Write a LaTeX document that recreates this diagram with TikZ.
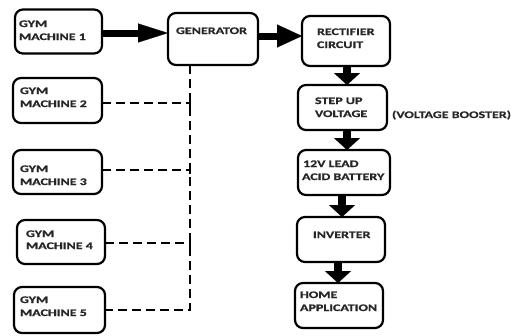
\documentclass[tikz,border=0pt]{standalone}
\usepackage{fontspec}
\newfontfamily\lbl{Carlito}[FakeStretch=1.4, FakeBold=0.8]
\usetikzlibrary{arrows.meta}

\tikzset{
  box/.style={draw=black, line width=2.2bp, rounded corners=8bp, fill=white,
              inner sep=0pt, outer sep=0pt},
  txt/.style={anchor=base west, inner sep=0pt, outer sep=0pt,
              font=\lbl\bfseries\fontsize{10bp}{13bp}\selectfont, text=black!85},
  bigarrow/.style={line width=7bp,
              -{Triangle[width=23bp,length=25bp,line width=0.1bp]}},
  longarrow/.style={line width=7bp,
              -{Triangle[width=19bp,length=30bp,line width=0.1bp]}},
  downarrow/.style={line width=8bp,
              -{Triangle[width=26bp,length=12bp,line width=0.1bp]}},
  link/.style={line width=2.4bp, dash pattern=on 9bp off 5bp},
}

\begin{document}
\begin{tikzpicture}[x=1bp, y=-1bp]
  \useasboundingbox (0,0) rectangle (521,335);

  % gym machines
  \node[box, minimum width=87bp, minimum height=44bp] (gm1) at (58.5,31.5) {};
  \node[box, minimum width=89bp, minimum height=45bp] (gm2) at (57.5,100.5) {};
  \node[box, minimum width=89bp, minimum height=44bp] (gm3) at (57.5,172) {};
  \node[box, minimum width=88bp, minimum height=44bp] (gm4) at (61,242) {};
  \node[box, minimum width=91bp, minimum height=46bp] (gm5) at (59.5,310) {};

  % power chain
  \node[box, minimum width=90bp, minimum height=52bp] (gen) at (213,39) {};
  \node[box, minimum width=88bp, minimum height=50bp] (rect) at (346,41) {};
  \node[box, minimum width=89bp, minimum height=45bp] (step) at (342.5,107.5) {};
  \node[box, minimum width=92bp, minimum height=45bp] (batt) at (344,172.5) {};
  \node[box, minimum width=88bp, minimum height=45bp] (inv) at (341,239.5) {};
  \node[box, minimum width=88bp, minimum height=45bp] (home) at (339,305.5) {};

  % labels
  \node[txt] (t1a) at (19,27) {GYM};
  \node[txt] (t1b) at (19,40) {MACHINE 1};
  \node[txt] (t2a) at (20,94) {GYM};
  \node[txt] (t2b) at (20,107) {MACHINE 2};
  \node[txt] (t3a) at (20,172) {GYM};
  \node[txt] (t3b) at (20,185) {MACHINE 3};
  \node[txt] (t4a) at (26,237) {GYM};
  \node[txt] (t4b) at (26,249) {MACHINE 4};
  \node[txt] (t5a) at (20,303) {GYM};
  \node[txt] (t5b) at (20,316) {MACHINE 5};
  \node[txt] (tg) at (176,34) {GENERATOR};
  \node[txt] (tra) at (317,35) {RECTIFIER};
  \node[txt] (trb) at (317,48) {CIRCUIT};
  \node[txt] (tsa) at (315,104) {STEP UP};
  \node[txt] (tsb) at (315,117) {VOLTAGE};
  \node[txt] (tvb) at (392,118) {(VOLTAGE BOOSTER)};
  \node[txt] (tba) at (303,167) {12V LEAD};
  \node[txt] (tbb) at (302,180) {ACID BATTERY};
  \node[txt] (ti) at (313,238) {INVERTER};
  \node[txt] (tha) at (300,298) {HOME};
  \node[txt] (thb) at (300,311) {APPLICATION};

  % solid energy flow
  \draw[longarrow] (gm1.east |- 0,33) -- (gen.west |- 0,33);
  \draw[bigarrow] (gen.east |- 0,36) -- (rect.west |- 0,36);
  \draw[downarrow] (rect.south -| 347,0) -- (step.north -| 347,0);
  \draw[downarrow] (step.south -| 347,0) -- (batt.north -| 347,0);
  \draw[downarrow] (batt.south -| 342,0) -- (inv.north -| 342,0);
  \draw[downarrow] (inv.south -| 338,0) -- (home.north -| 338,0);

  % dashed collector from the other machines
  \coordinate (bus) at (gen.south -| 190,0);
  \draw[link] (bus) |- (gm5.east |- 0,310);
  \draw[link] (gm2.east |- 0,103) -- (bus |- 0,103);
  \draw[link] (gm3.east |- 0,170) -- (bus |- 0,170);
  \draw[link] (gm4.east |- 0,243) -- (bus |- 0,243);
  \foreach \yy in {103,170,243} \draw[line width=2.4bp] (bus |- 0,\yy-4) -- (bus |- 0,\yy+4);
\end{tikzpicture}
\end{document}
